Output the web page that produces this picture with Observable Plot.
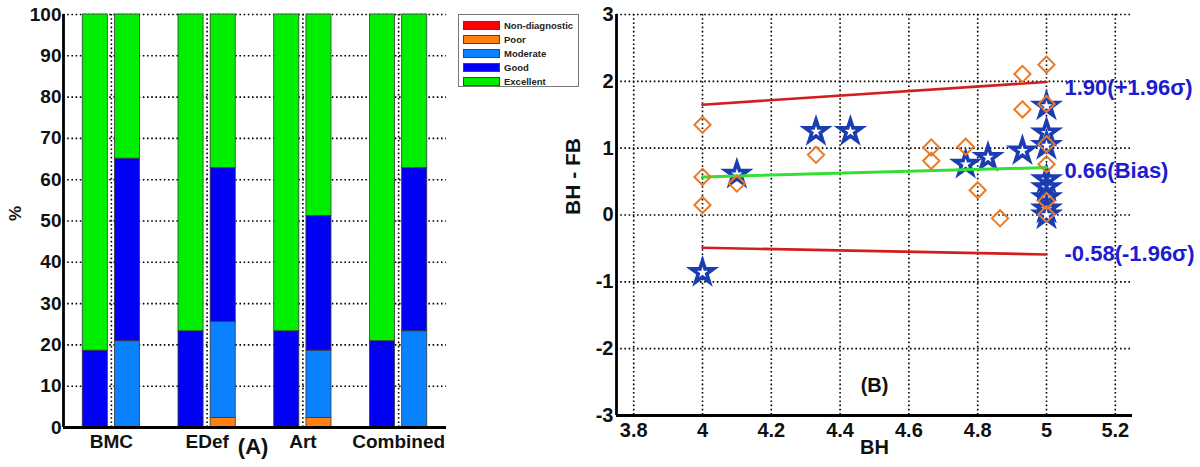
<!DOCTYPE html>
<html>
<head>
<meta charset="utf-8">
<script src="https://cdn.jsdelivr.net/npm/d3@7"></script>
<script src="https://cdn.jsdelivr.net/npm/@observablehq/plot@0.6"></script>
<style>
  html, body { margin: 0; padding: 0; background: #fff; }
  #wrap { position: relative; width: 1200px; height: 467px; overflow: hidden; font-family: "Liberation Sans", Arial, sans-serif; }
  #panelA { position: absolute; left: 0; top: 0; }
  #panelB { position: absolute; left: 560px; top: 0; }
  #legend { position: absolute; left: 458px; top: 14px; width: 121px; height: 73px; border: 1px solid #777; background: #fff; box-sizing: border-box; padding: 3px 0 0 4px; }
  .row { display: flex; align-items: center; height: 14px; font-size: 9.5px; font-weight: bold; color: #222; white-space: nowrap; }
  .sw { width: 37px; height: 9px; border: 1px solid #444; box-sizing: border-box; margin-right: 4px; flex: none; }
  svg { overflow: visible; }
</style>
</head>
<body>
<div id="wrap">
  <div id="panelA"></div>
  <div id="legend"></div>
  <div id="panelB"></div>
</div>
<script>
// ---------------- Panel A data ----------------
const categories = ["BMC", "EDef", "Art", "Combined"];
const qualityLevels = ["Non-diagnostic", "Poor", "Moderate", "Good", "Excellent"];
const levelColors = ["#ff0000", "#ff8010", "#0a82ff", "#0000f5", "#00ee00"];
// first bar of each pair (%)
const bar1NonDiagnostic = [0, 0, 0, 0];
const bar1Poor = [0, 0, 0, 0];
const bar1Moderate = [0, 0, 0, 0];
const bar1Good = [18.6, 23.3, 23.3, 20.9];
const bar1Excellent = [81.4, 76.7, 76.7, 79.1];
// second bar of each pair (%)
const bar2NonDiagnostic = [0, 0, 0, 0];
const bar2Poor = [0, 2.3, 2.3, 0];
const bar2Moderate = [20.9, 23.3, 16.3, 23.3];
const bar2Good = [44.2, 37.2, 32.6, 39.5];
const bar2Excellent = [34.9, 37.2, 48.8, 37.2];
const yTicksA = [0, 10, 20, 30, 40, 50, 60, 70, 80, 90, 100];

// ---------------- Panel B data ----------------
const starBH   = [4, 4.1, 4.33, 4.43, 4.765, 4.83, 4.93, 5, 5, 5, 5, 5, 5, 5, 5];
const starDiff = [-0.86, 0.61, 1.25, 1.25, 0.76, 0.86, 0.96, 1.63, 1.23, 1.04, 0.53, 0.41, 0.26, 0.09, 0.0];
const diamondBH   = [4, 4, 4, 4.1, 4.33, 4.665, 4.665, 4.765, 4.8, 4.865, 4.93, 4.93, 5, 5, 5, 5, 5, 5];
const diamondDiff = [1.35, 0.57, 0.15, 0.47, 0.9, 1.01, 0.81, 1.02, 0.37, -0.05, 2.11, 1.58, 2.25, 1.66, 1.06, 0.76, 0.21, 0.01];
const lineBH = [4, 5];
const upperLoA = [1.65, 1.99];
const biasLine = [0.57, 0.71];
const lowerLoA = [-0.49, -0.59];
const annotationValues = [1.90, 0.66, -0.58];
const annotationLabels = ["1.90(+1.96σ)", "0.66(Bias)", "-0.58(-1.96σ)"];
const xTicksB = [3.8, 4, 4.2, 4.4, 4.6, 4.8, 5, 5.2];
const yTicksB = [-3, -2, -1, 0, 1, 2, 3];

// ---------------- build bar table ----------------
const barSeries = [
  [bar1NonDiagnostic, bar1Poor, bar1Moderate, bar1Good, bar1Excellent],
  [bar2NonDiagnostic, bar2Poor, bar2Moderate, bar2Good, bar2Excellent]
];
const barOffset = [-0.168, 0.168];
const barHalf = 0.131;
const rects = [];
categories.forEach((cat, ci) => {
  barSeries.forEach((series, bi) => {
    let acc = 0;
    series.forEach((vals, li) => {
      const v = vals[ci];
      if (v > 0) {
        const g = ci + 1 + barOffset[bi];
        rects.push({x1: g - barHalf, x2: g + barHalf, y1: acc, y2: acc + v, level: qualityLevels[li]});
      }
      acc += v;
    });
  });
});

const dotted = {stroke: "black", strokeOpacity: 1, strokeWidth: 1.6, strokeDasharray: "1.6,2.6"};
const fontFam = "'Liberation Sans', Arial, sans-serif";

const plotA = Plot.plot({
  width: 470, height: 467,
  marginLeft: 63, marginRight: 24, marginTop: 14, marginBottom: 40,
  style: {fontFamily: fontFam, fontWeight: "bold", color: "#111", fontSize: "19px"},
  x: {domain: [0.5, 4.5]},
  y: {domain: [0, 100]},
  color: {domain: qualityLevels, range: levelColors},
  marks: [
    Plot.gridY(yTicksA.filter(d => d > 0), dotted),
    Plot.gridX([1, 2, 3, 4], dotted),
    Plot.rect(rects, {x1: "x1", x2: "x2", y1: "y1", y2: "y2", fill: "level", stroke: "#3a3a3a", strokeWidth: 0.8}),
    Plot.axisY(yTicksA, {tickSize: 0, tickPadding: 2, fontSize: 19, label: null}),
    Plot.axisX([1, 2, 3, 4], {tickSize: 0, tickPadding: 7, fontSize: 19, tickFormat: d => categories[d - 1], label: null}),
    Plot.ruleY([0], {stroke: "black", strokeWidth: 2.8}),
    Plot.ruleX([0.5], {stroke: "black", strokeWidth: 2.8}),
    Plot.text(["%"], {frameAnchor: "left", rotate: -90, dx: -48, fontSize: 17, fontWeight: "bold", fill: "#111"}),
    Plot.text(["(A)"], {x: [2.48], frameAnchor: "bottom", dy: 26, fontSize: 22, fontWeight: "bold", fill: "#111"})
  ]
});
document.getElementById("panelA").appendChild(plotA);

// legend
const legend = document.getElementById("legend");
qualityLevels.forEach((lv, i) => {
  const row = document.createElement("div");
  row.className = "row";
  row.innerHTML = `<span class="sw" style="background:${levelColors[i]}"></span><span>${lv}</span>`;
  legend.appendChild(row);
});

// ---------------- Panel B ----------------
const stars = starBH.map((x, i) => ({x, y: starDiff[i]}));
const diamonds = diamondBH.map((x, i) => ({x, y: diamondDiff[i]}));
const mkLine = arr => lineBH.map((x, i) => ({x, y: arr[i]}));
const annots = annotationValues.map((y, i) => ({x: lineBH[1], y, label: annotationLabels[i]}));

const plotB = Plot.plot({
  width: 640, height: 467,
  marginLeft: 56, marginRight: 68, marginTop: 14, marginBottom: 52,
  style: {fontFamily: fontFam, fontWeight: "bold", color: "#111", fontSize: "20px"},
  x: {domain: [3.75, 5.25]},
  y: {domain: [-3, 3]},
  marks: [
    Plot.gridY(yTicksB.filter(d => d > -3), dotted),
    Plot.gridX(xTicksB, dotted),
    Plot.dot(stars, {x: "x", y: "y", symbol: "star", r: 7, fill: "white", stroke: "#1b3db2", strokeWidth: 3.6}),
    Plot.line(mkLine(upperLoA), {x: "x", y: "y", stroke: "#d41e1e", strokeWidth: 2.6}),
    Plot.line(mkLine(biasLine), {x: "x", y: "y", stroke: "#33e033", strokeWidth: 3}),
    Plot.line(mkLine(lowerLoA), {x: "x", y: "y", stroke: "#d41e1e", strokeWidth: 2.6}),
    Plot.dot(diamonds, {x: "x", y: "y", symbol: "diamond2", r: 7.3, fill: "none", stroke: "#ea7a26", strokeWidth: 2}),
    Plot.text(annots, {x: "x", y: "y", text: "label", dx: 18, textAnchor: "start", fontSize: 22, fontWeight: "bold", fill: "#1c1cd0"}),
    Plot.text(["(B)"], {x: [4.5], y: [-2.56], fontSize: 20, fontWeight: "bold", fill: "#111"}),
    Plot.axisY(yTicksB, {tickSize: 0, tickPadding: 3, fontSize: 20, tickFormat: d => String(d), label: null}),
    Plot.axisX(xTicksB, {tickSize: 0, tickPadding: 7, fontSize: 20, tickFormat: d => String(+d.toFixed(1)), label: null}),
    Plot.ruleY([-3], {stroke: "black", strokeWidth: 2.8}),
    Plot.ruleX([3.75], {stroke: "black", strokeWidth: 2.8}),
    Plot.text(["BH - FB"], {frameAnchor: "left", rotate: -90, dx: -43, fontSize: 21, fontWeight: "bold", fill: "#111"}),
    Plot.text(["BH"], {frameAnchor: "bottom", dy: 38, fontSize: 20, fontWeight: "bold", fill: "#111"})
  ]
});
document.getElementById("panelB").appendChild(plotB);
</script>
</body>
</html>
